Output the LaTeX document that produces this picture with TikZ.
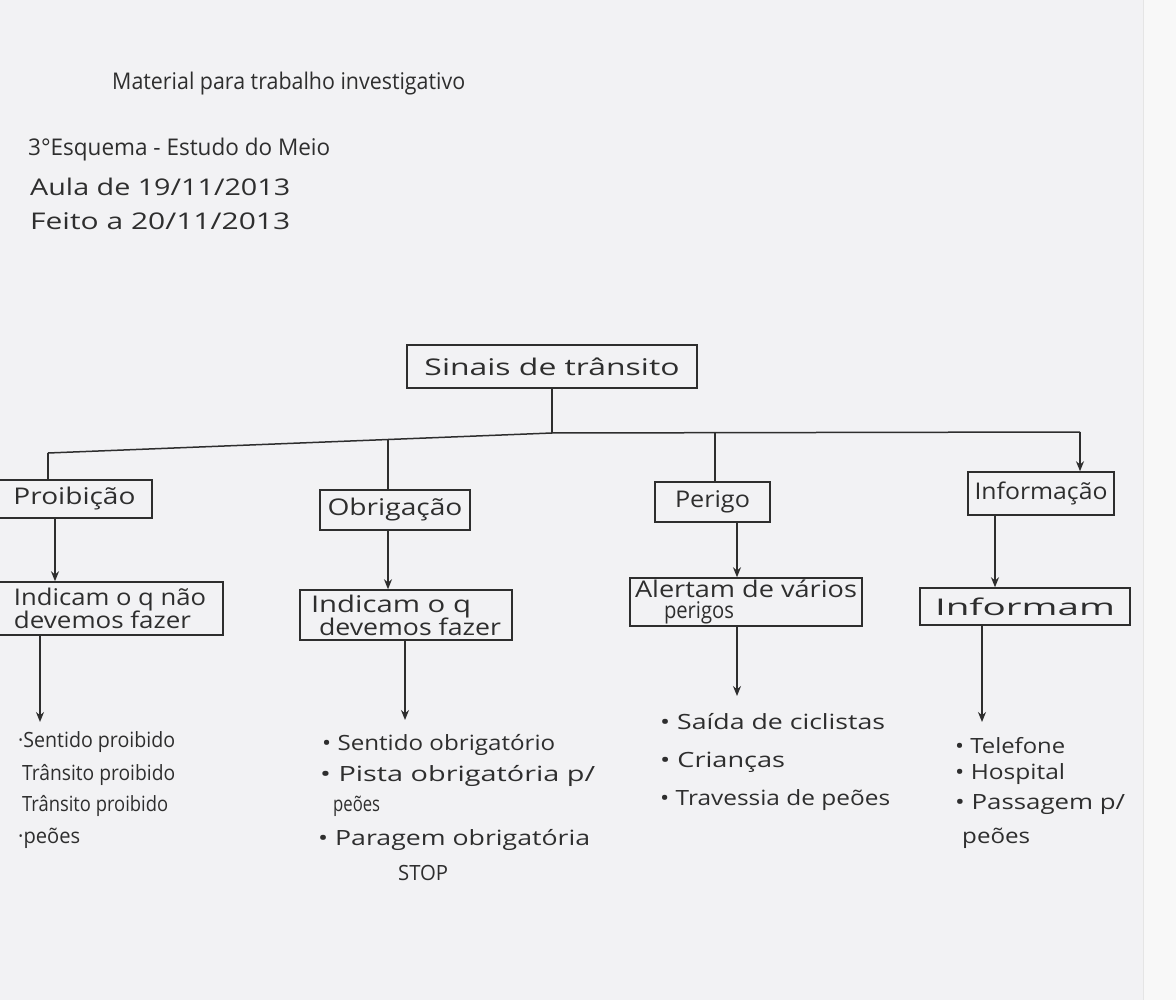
\documentclass[tikz,border=0pt]{standalone}
\usepackage{fontspec}
\usepackage{graphicx}
\setmainfont{Open Sans}
\usetikzlibrary{arrows.meta,calc}
\definecolor{paper}{HTML}{F2F2F4}
\definecolor{paperedge}{HTML}{F8F8F8}
\definecolor{ink}{HTML}{2E2E2E}
% stretch a text to a given width (in pt) keeping its height
\newcommand\hw[2]{\resizebox{#1pt}{\height}{#2}}
\tikzset{
  hand/.style={text=ink, inner sep=0pt, font=\fontsize{23}{27}\selectfont},
  small/.style={hand, font=\fontsize{21}{25}\selectfont},
  framebox/.style={hand, draw=ink, line width=1.5pt, align=center},
  link/.style={draw=ink, line width=1.5pt},
  arr/.style={link, -{Stealth[length=10pt,width=8pt]}},
}
\begin{document}
\begin{tikzpicture}[x=1pt,y=-1pt]
  \useasboundingbox (0,0) rectangle (1176,1000);
  % sheet of paper
  \fill[paper] (0,0) rectangle (1176,1000);
  \fill[paperedge] (1143,0) rectangle (1176,1000);
  \draw[black!10, line width=1pt] (1143,0) -- (1143,1000);

  % heading
  \node[hand, anchor=west] (title) at (112,84) {\hw{353}{Material para trabalho investigativo}};
  \node[hand, anchor=west] (sub) at (28,150) {\hw{302}{3°Esquema - Estudo do Meio}};
  \node[hand, anchor=west] (aula) at (30,187) {\hw{260}{Aula de 19/11/2013}};
  \node[hand, anchor=west] (feito) at (30,221) {\hw{260}{Feito a 20/11/2013}};

  % root
  \node[framebox, minimum width=290pt, minimum height=43pt] (root) at (552,366.5) {\hw{255}{Sinais de trânsito}};

  % first level
  \node[framebox, minimum width=155pt, minimum height=38pt] (proib) at (74.5,499) {\hw{122}{Proibição}};
  \node[framebox, minimum width=150pt, minimum height=40pt] (obrig) at (395,510) {\hw{135}{Obrigação}};
  \node[framebox, minimum width=115pt, minimum height=40pt] (perigo) at (712.5,502) {\hw{75}{Perigo}};
  \node[framebox, minimum width=146pt, minimum height=43pt] (info) at (1041,493.5) {\hw{133}{Informação}};

  % second level
  \node[framebox, align=left, minimum width=226pt, minimum height=53pt] (ind1) at (110,608.5)
    {\hw{192}{Indicam o q não}\\[-4pt]\hw{177}{devemos fazer}};
  \node[framebox, align=left, minimum width=212pt, minimum height=50pt] (ind2) at (406,615)
    {\hw{160}{Indicam o q}\\[-4pt]\hspace*{8pt}\hw{182}{devemos fazer}};
  \node[framebox, align=left, minimum width=232pt, minimum height=48pt] (alert) at (746,602)
    {\hw{222}{Alertam de vários}\\[-6pt]\hspace*{29pt}\hw{70}{perigos}\hspace*{123pt}};
  \node[framebox, minimum width=210pt, minimum height=37pt] (informam) at (1025,606.5) {\hw{180}{Informam}};

  % lists
  \node[small, anchor=west] (p1) at (18,742) {\hw{157}{·Sentido proibido}};
  \node[small, anchor=west] (p2) at (22,775) {\hw{153}{Trânsito proibido}};
  \node[small, anchor=west] (p3) at (22,806) {\hw{146}{Trânsito proibido}};
  \node[small, anchor=west] (p4) at (18,838) {\hw{62}{·peões}};

  \node[small, anchor=west] (o1) at (322,745) {\hw{233}{• Sentido obrigatório}};
  \node[small, anchor=west] (o2) at (320,776) {\hw{275}{• Pista obrigatória p/}};
  \node[small, anchor=west] (o3) at (333,806) {\hw{47}{peões}};
  \node[small, anchor=west] (o4) at (318,840) {\hw{272}{• Paragem obrigatória}};
  \node[small, anchor=west] (o5) at (398,873) {\hw{50}{STOP}};

  \node[small, anchor=west] (g1) at (660,722) {\hw{225}{• Saída de ciclistas}};
  \node[small, anchor=west] (g2) at (660,762) {\hw{125}{• Crianças}};
  \node[small, anchor=west] (g3) at (660,800) {\hw{230}{• Travessia de peões}};

  \node[small, anchor=west] (i1) at (955,746) {\hw{110}{• Telefone}};
  \node[small, anchor=west] (i2) at (955,774) {\hw{110}{• Hospital}};
  \node[small, anchor=west] (i3) at (955,805) {\hw{170}{• Passagem p/}};
  \node[small, anchor=west] (i4) at (962,838) {\hw{68}{peões}};

  % branching bar under the root
  \coordinate (busL) at (48,453);
  \coordinate (busM) at (552,433);
  \coordinate (busR) at (1080,432);
  \coordinate (busO) at (388,440);
  \coordinate (busP) at (715,433);
  \draw[link] (root.south) -- (busM);
  \draw[link] (busL) -- (busM) -- (busR);
  \draw[link] (busL) -- (busL |- proib.north);
  \draw[link] (busO) -- (busO |- obrig.north);
  \draw[link] (busP) -- (busP |- perigo.north);
  \draw[arr] (busR) -- (busR |- info.north);

  % first level to second level
  \coordinate (c1) at (55,0);
  \coordinate (c2) at (388,0);
  \coordinate (c3) at (737,0);
  \coordinate (c4) at (995,0);
  \draw[arr] (proib.south -| c1) -- (ind1.north -| c1);
  \draw[arr] (obrig.south -| c2) -- (ind2.north -| c2);
  \draw[arr] (perigo.south -| c3) -- (alert.north -| c3);
  \draw[arr] (info.south -| c4) -- (informam.north -| c4);

  % second level to the lists
  \coordinate (t1) at (40,722);
  \coordinate (t2) at (405,720);
  \coordinate (t3) at (737,696);
  \coordinate (t4) at (982,722);
  \draw[arr] (ind1.south -| t1) -- (t1);
  \draw[arr] (ind2.south -| t2) -- (t2);
  \draw[arr] (alert.south -| t3) -- (t3);
  \draw[arr] (informam.south -| t4) -- (t4);
\end{tikzpicture}
\end{document}
